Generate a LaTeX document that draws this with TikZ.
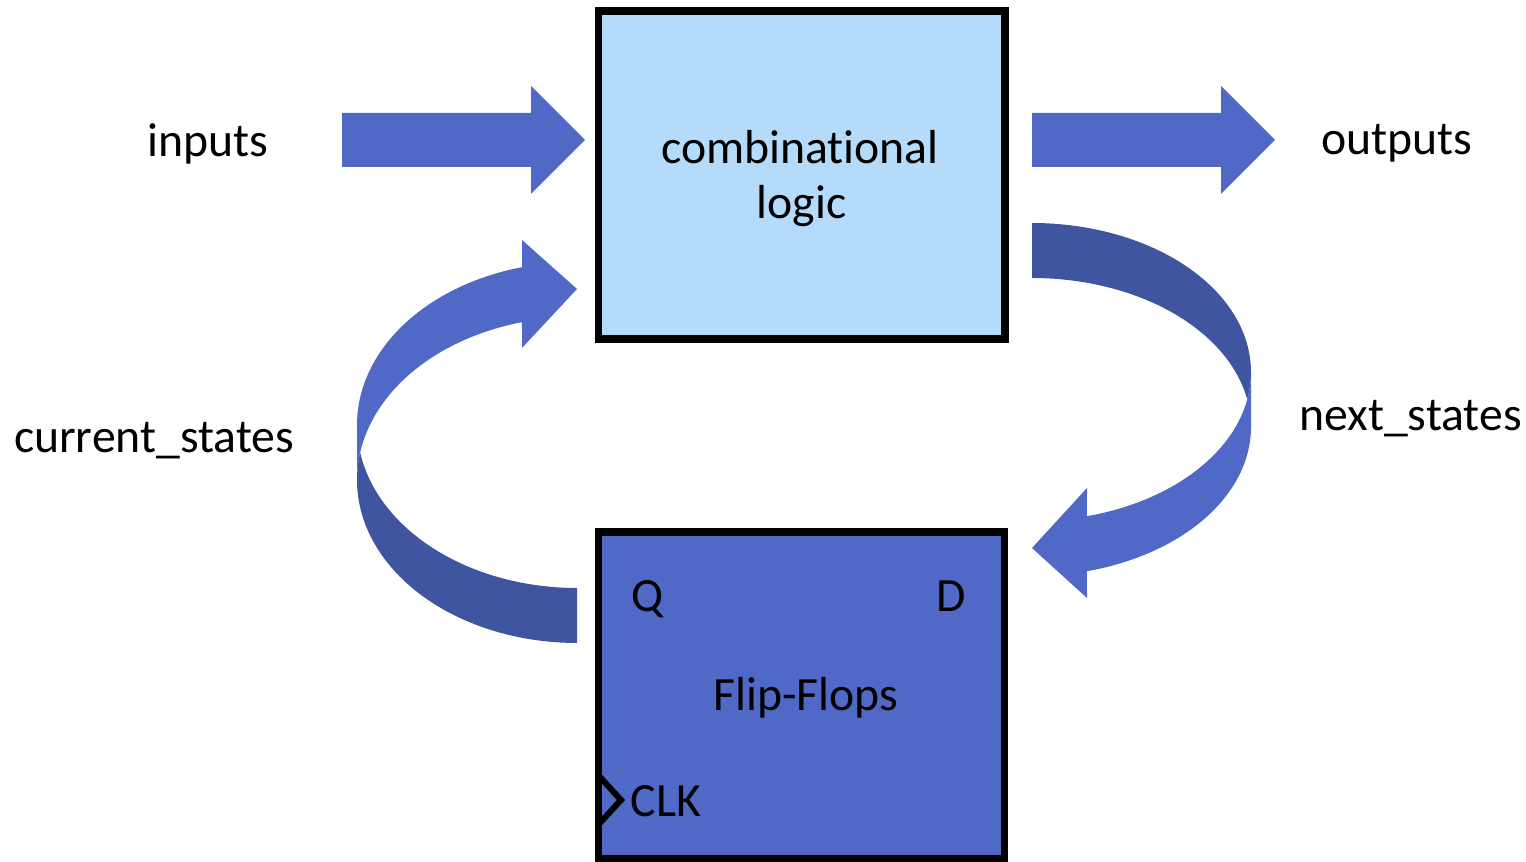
\documentclass[tikz,border=0pt]{standalone}
\usepackage{fontspec}
\setmainfont{Carlito}[Ligatures=NoCommon]
\definecolor{flowblue}{RGB}{80,105,199}
\definecolor{flowshade}{RGB}{64,85,160}
\definecolor{logicfill}{RGB}{180,219,250}
\tikzset{
  lbl/.style={inner sep=0pt, anchor=base, font=\fontsize{13.57pt}{16pt}\selectfont},
  blockbox/.style={draw=black, line width=2.13pt, inner sep=0pt, outer sep=0pt},
  flowfill/.style={fill=flowblue},
  shadefill/.style={fill=flowshade}
}
\begin{document}
\begin{tikzpicture}[x=0.01cm, y=-0.01cm]
  \useasboundingbox (0,0) rectangle (1526,862);

  % straight block arrows
  \fill[flowfill] (342,113) -- (531,113) -- (531,86) -- (585,140) -- (531,194) -- (531,167) -- (342,167) -- cycle;
  \fill[flowfill] (1032,113) -- (1221,113) -- (1221,86) -- (1275,140) -- (1221,194) -- (1221,167) -- (1032,167) -- cycle;

  % curved arrow on the left: shaded tail band, then the band carrying the head
  \fill[shadefill] plot[domain=90:189.71, samples=60] ({577+220*cos(\x)},{480+163*sin(\x)})
    -- plot[domain=170.29:90, samples=60] ({577+220*cos(\x)},{425+163*sin(\x)}) -- cycle;
  \fill[flowfill] plot[domain=180:255.52, samples=60] ({577+220*cos(\x)},{425+163*sin(\x)})
    -- (522,240) -- (577,289) -- (522,348)
    -- plot[domain=255.52:180, samples=60] ({577+220*cos(\x)},{480+163*sin(\x)}) -- cycle;

  % curved arrow on the right
  \fill[shadefill] plot[domain=-90:10.64, samples=60] ({1032+219*cos(\x)},{372+149*sin(\x)})
    -- plot[domain=-10.64:-90, samples=60] ({1032+219*cos(\x)},{427+149*sin(\x)}) -- cycle;
  \fill[flowfill] plot[domain=0:75.46, samples=60] ({1032+219*cos(\x)},{372+149*sin(\x)})
    -- (1087,488) -- (1032,548) -- (1087,598)
    -- plot[domain=75.46:0, samples=60] ({1032+219*cos(\x)},{427+149*sin(\x)}) -- cycle;

  % blocks
  \node[blockbox, fill=logicfill, minimum width=4.062cm, minimum height=3.277cm] (comb) at (801.6,175.15) {};
  \node[blockbox, fill=flowblue, minimum width=4.06cm, minimum height=3.267cm] (ff) at (801.5,695.35) {};

  % clock input marker
  \draw[line width=1.7pt, miter limit=10] (599,776) -- (621,800) -- (599,824);

  % labels
  \node[lbl] (inputs) at (207.5,157) {inputs};
  \node[lbl] (outputs) at (1397,155) {outputs};
  \node[lbl] (combA) at (800,163.5) {combinational};
  \node[lbl] (combB) at (801.5,218.5) {logic};
  \node[lbl] (cur) at (154,453) {current\_states};
  \node[lbl] (nxt) at (1410.5,430.5) {next\_states};
  \node[lbl, anchor=base west] (q) at (631,612) {Q};
  \node[lbl, anchor=base west] (d) at (936,612) {D};
  \node[lbl] (fflabel) at (805.8,711) {Flip-Flops};
  \node[lbl, anchor=base west] (clk) at (630,817) {CLK};
\end{tikzpicture}
\end{document}
